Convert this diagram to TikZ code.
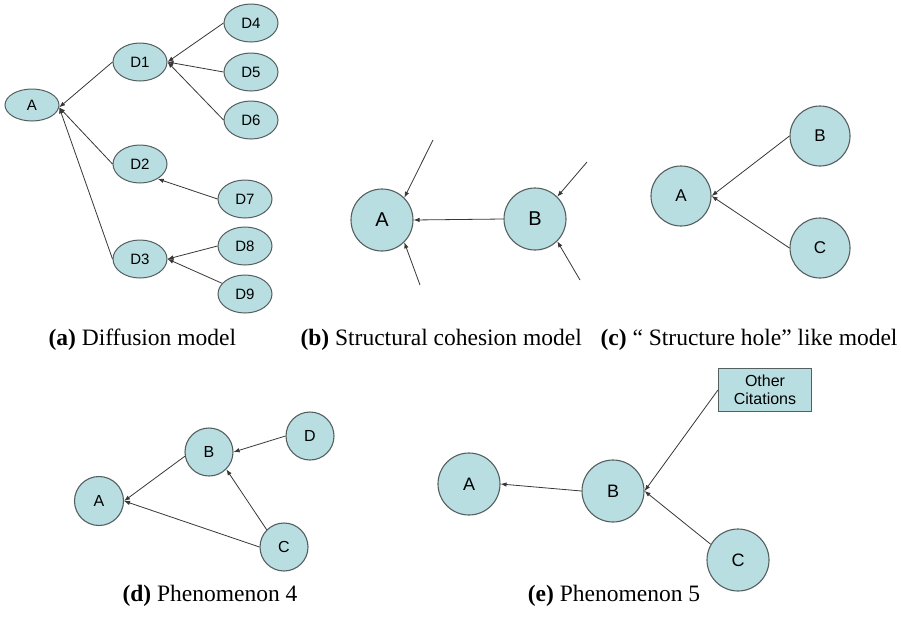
\documentclass[tikz,border=0pt]{standalone}
\usepackage{fontspec}
\setmainfont{Liberation Serif}
\newfontfamily\arialfont{Liberation Sans}
\usetikzlibrary{shapes.geometric,arrows.meta}
\definecolor{nodefill}{RGB}{185,222,226}
\definecolor{nodeline}{RGB}{85,95,95}
\definecolor{edgeline}{RGB}{55,55,55}

\begin{document}
\begin{tikzpicture}[x=1pt,y=-1pt,
  >={Latex[length=6pt,width=4.5pt]},
  oval/.style={ellipse,draw=nodeline,fill=nodefill,line width=1pt,minimum width=54pt,minimum height=38pt,inner sep=0pt,font=\arialfont\fontsize{15}{17}\selectfont},
  ball/.style={circle,draw=nodeline,fill=nodefill,line width=1.1pt,inner sep=0pt},
  cite/.style={->,draw=edgeline,line width=0.8pt},
  caption/.style={font=\fontsize{23.5}{26}\selectfont}]
\useasboundingbox (0,0) rectangle (901,616);

% (a) diffusion model
\node [oval, minimum height=32pt] (a-A) at (32,105) {A};
\node [oval] (a-D1) at (140,62) {D1};
\node [oval] (a-D2) at (140,164) {D2};
\node [oval] (a-D3) at (140,259) {D3};
\node [oval] (a-D4) at (251,23) {D4};
\node [oval] (a-D5) at (251,72) {D5};
\node [oval] (a-D6) at (251,120) {D6};
\node [oval] (a-D7) at (245,199) {D7};
\node [oval] (a-D8) at (245,246) {D8};
\node [oval] (a-D9) at (245,294) {D9};
\foreach \d in {1,2,3} \draw [cite] (a-D\d.west) -- (a-A.-5);
\foreach \d in {4,5,6} \draw [cite] (a-D\d.west) -- (a-D1.east);
\draw [cite] (a-D7.west) -- (a-D2.-40);
\draw [cite] (a-D8.west) -- (a-D3.east);
\draw [cite] (a-D9.155) -- (a-D3.east);

% (b) structural cohesion model
\node [ball, minimum size=62pt, font=\arialfont\fontsize{20}{22}\selectfont] (b-A) at (382,220) {A};
\node [ball, minimum size=62pt, font=\arialfont\fontsize{20}{22}\selectfont] (b-B) at (535,219) {B};
\coordinate (b-in1) at (433,140);
\coordinate (b-in2) at (420,285);
\coordinate (b-in3) at (587,162);
\coordinate (b-in4) at (580,280);
\draw [cite] (b-B.west) -- (b-A.east);
\draw [cite] (b-in1) -- (b-A.45);
\draw [cite] (b-in2) -- (b-A.-45);
\draw [cite] (b-in3) -- (b-B.45);
\draw [cite] (b-in4) -- (b-B.-45);

% (c) structure hole
\node [ball, minimum size=60pt, font=\arialfont\fontsize{17}{20}\selectfont] (c-A) at (681,196) {A};
\node [ball, minimum size=60pt, font=\arialfont\fontsize{17}{20}\selectfont] (c-B) at (820,136) {B};
\node [ball, minimum size=60pt, font=\arialfont\fontsize{17}{20}\selectfont] (c-C) at (820,248) {C};
\draw [cite] (c-B.west) -- (c-A.east);
\draw [cite] (c-C.west) -- (c-A.east);

% (d) phenomenon 4
\node [ball, minimum size=49pt, font=\arialfont\fontsize{16}{18}\selectfont] (d-A) at (99,501) {A};
\node [ball, minimum size=48pt, font=\arialfont\fontsize{16}{18}\selectfont] (d-B) at (209,452) {B};
\node [ball, minimum size=48pt, font=\arialfont\fontsize{16}{18}\selectfont] (d-C) at (284,547) {C};
\node [ball, minimum size=48pt, font=\arialfont\fontsize{16}{18}\selectfont] (d-D) at (310,436) {D};
\draw [cite] (d-B.190) -- (d-A.east);
\draw [cite] (d-C.west) -- (d-A.east);
\draw [cite] (d-D.west) -- (d-B.east);
\draw [cite] (d-C.135) -- (d-B.-45);

% (e) phenomenon 5
\node [ball, minimum size=62pt, font=\arialfont\fontsize{18}{20}\selectfont] (e-A) at (469,484) {A};
\node [ball, minimum size=62pt, font=\arialfont\fontsize{18}{20}\selectfont] (e-B) at (613,491) {B};
\node [ball, minimum size=62pt, font=\arialfont\fontsize{18}{20}\selectfont] (e-C) at (738,560) {C};
\node [rectangle, draw=nodeline, fill=nodefill, line width=1.1pt, minimum width=93pt, minimum height=43pt, inner sep=0pt, align=center, font=\arialfont\fontsize{16}{18}\selectfont] (e-other) at (765,390) {Other\\Citations};
\draw [cite] (e-B.west) -- (e-A.east);
\draw [cite] (e-other.west) -- (e-B.east);
\draw [cite] (e-C.150) -- (e-B.east);

% captions
\node [caption, anchor=base west] (cap-a) at (45,345) {\textbf{(a)} Diffusion model};
\node [caption, anchor=base west] (cap-b) at (297,345) {\textbf{(b)} Structural cohesion model};
\node [caption, anchor=base east] (cap-c) at (901,345) {\textbf{(c)} “ Structure hole” like model};
\node [caption, anchor=base] (cap-d) at (210,601) {\textbf{(d)} Phenomenon 4};
\node [caption, anchor=base] (cap-e) at (614,601) {\textbf{(e)} Phenomenon 5};
\end{tikzpicture}
\end{document}
